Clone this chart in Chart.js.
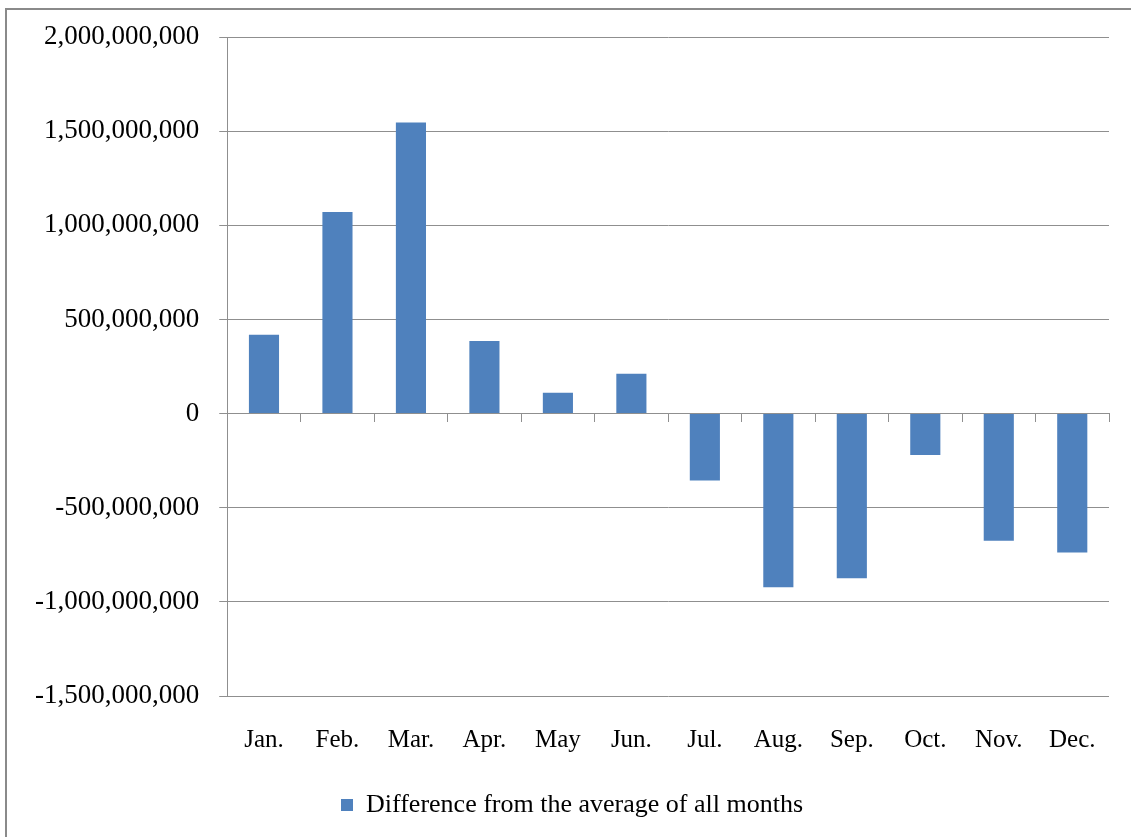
<!DOCTYPE html>
<html>
<head>
<meta charset="utf-8">
<script src="https://cdn.jsdelivr.net/npm/chart.js@4/dist/chart.umd.min.js"></script>
<style>
  html, body { margin: 0; padding: 0; background: #fff; overflow: hidden; }
  #wrap { position: relative; width: 1131px; height: 837px; }
  #frame {
    position: absolute; left: 5px; top: 8px; width: 1200px; height: 900px;
    border-left: 2px solid #8a8a8a; border-top: 2px solid #8a8a8a;
    box-sizing: border-box; pointer-events: none;
  }
  canvas { position: absolute; left: 0; top: 0; }
</style>
</head>
<body>
<div id="wrap">
  <div id="frame"></div>
  <canvas id="chart" width="1131" height="837"></canvas>
</div>
<script>
// Monthly deviation from the all-month average
const months = ['Jan.', 'Feb.', 'Mar.', 'Apr.', 'May', 'Jun.', 'Jul.', 'Aug.', 'Sep.', 'Oct.', 'Nov.', 'Dec.'];
const difference = [419e6, 1070e6, 1546e6, 385e6, 111e6, 212e6, -356e6, -922e6, -874e6, -220e6, -676e6, -738e6];
const seriesLabel = 'Difference from the average of all months';
const yMin = -1.5e9;
const yMax = 2e9;
const yStep = 5e8;

const serif = '"Liberation Serif", "Times New Roman", serif';
const gridGray = '#8f8f8f';

new Chart(document.getElementById('chart'), {
  type: 'bar',
  data: {
    labels: months,
    datasets: [{
      label: seriesLabel,
      data: difference,
      xAxisID: 'x',
      yAxisID: 'y',
      backgroundColor: '#4F81BD',
      borderWidth: 0,
      barPercentage: 0.41,
      categoryPercentage: 1
    }]
  },
  options: {
    responsive: false,
    animation: false,
    devicePixelRatio: 1,
    layout: { padding: { top: 37, right: 22, bottom: 9, left: 35 } },
    plugins: {
      tooltip: { enabled: false },
      legend: {
        display: true,
        position: 'bottom',
        align: 'center',
        labels: {
          boxWidth: 12,
          boxHeight: 12,
          padding: 8,
          color: '#000',
          font: { family: serif, size: 26 }
        }
      }
    },
    scales: {
      x: {
        type: 'category',
        position: 'bottom',
        offset: true,
        grid: { display: false, drawTicks: false },
        border: { display: false },
        ticks: {
          color: '#000',
          padding: 29,
          maxRotation: 0,
          autoSkip: false,
          font: { family: serif, size: 25 }
        }
      },
      // zero line carrying the category tick marks
      x0: {
        type: 'category',
        axis: 'x',
        labels: months,
        position: { y: 0 },
        offset: true,
        grid: {
          offset: true,
          drawOnChartArea: false,
          drawTicks: true,
          tickLength: 8,
          color: gridGray,
          lineWidth: 1
        },
        border: { display: true, color: gridGray, width: 1 },
        ticks: { display: false }
      },
      y: {
        type: 'linear',
        position: 'left',
        min: yMin,
        max: yMax,
        grid: {
          color: gridGray,
          lineWidth: 1,
          drawTicks: true,
          tickLength: 8
        },
        border: { display: true, color: gridGray, width: 1 },
        ticks: {
          stepSize: yStep,
          color: '#000',
          padding: 20,
          font: { family: serif, size: 27 },
          callback: (v) => Number(v).toLocaleString('en-US')
        },
        // labels sit flush with the left padding
        afterFit: (scale) => { scale.width -= 20; }
      }
    }
  }
});
</script>
</body>
</html>
